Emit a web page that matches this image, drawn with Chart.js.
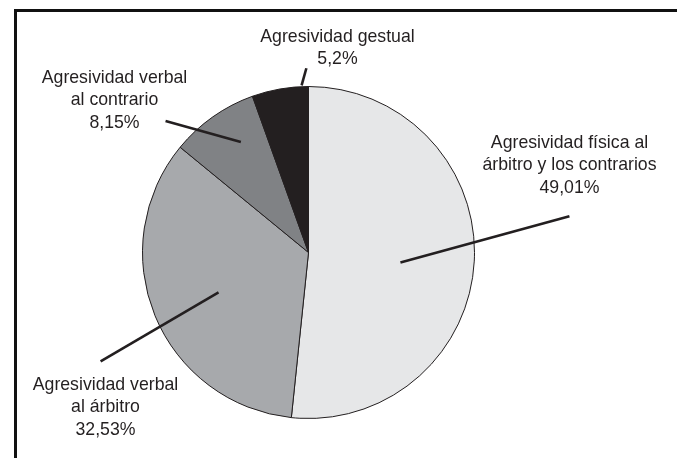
<!DOCTYPE html>
<html>
<head>
<meta charset="utf-8">
<script src="https://cdn.jsdelivr.net/npm/chart.js@4"></script>
<style>
html,body{margin:0;padding:0;background:#fff;}
canvas{display:block;}
</style>
</head>
<body>
<canvas id="c" width="677" height="458"></canvas>
<script>
// ---- data ----
const categories = [
  'Agresividad física al árbitro y los contrarios',
  'Agresividad verbal al árbitro',
  'Agresividad verbal al contrario',
  'Agresividad gestual'
];
const values = [49.01, 32.53, 8.15, 5.2];
const valueLabels = ['49,01%', '32,53%', '8,15%', '5,2%'];
const labelLines = [
  ['Agresividad física al', 'árbitro y los contrarios'],
  ['Agresividad verbal', 'al árbitro'],
  ['Agresividad verbal', 'al contrario'],
  ['Agresividad gestual']
];

// ---- style / layout ----
const colors = ['#e6e7e8', '#a7a9ac', '#808285', '#231f20'];
const ink = '#231f20';
// leader lines: angle offset (deg, from slice mid) and radius factor, inner & outer
const leaders = [
  {ia: 3.2, ir: 0.557, oa: -10.9, or: 1.587},
  {ia: -1.6, ir: 0.593, oa: -5.3, or: 1.414},
  {ia: 3.7, ir: 0.78, oa: -12.2, or: 1.17},
  {ia: 7.5, ir: 1.008, oa: 9.2, or: 1.11}
];
// text block placement relative to pie centre: centre x offset, first baseline offset
const textPos = [
  {dx: 261, dy: -105},
  {dx: -203, dy: 137},
  {dx: -194, dy: -170},
  {dx: 29, dy: -211}
];
const lineHeight = 22.5;
const fontSpec = '17.7px "Liberation Sans", Arial, sans-serif';

const framePlugin = {
  id: 'frame',
  beforeDraw(chart) {
    const ctx = chart.ctx;
    ctx.save();
    ctx.fillStyle = '#fff';
    ctx.fillRect(0, 0, chart.width, chart.height);
    ctx.strokeStyle = '#111';
    ctx.lineWidth = 3;
    ctx.beginPath();
    ctx.moveTo(15.5, chart.height);
    ctx.lineTo(15.5, 10.5);
    ctx.lineTo(chart.width, 10.5);
    ctx.stroke();
    ctx.restore();
  }
};

const labelPlugin = {
  id: 'pieLabels',
  afterDatasetsDraw(chart) {
    const ctx = chart.ctx;
    const meta = chart.getDatasetMeta(0);
    ctx.save();
    meta.data.forEach((arc, i) => {
      const p = arc.getProps(['x', 'y', 'startAngle', 'endAngle', 'outerRadius'], true);
      const mid = (p.startAngle + p.endAngle) / 2;
      const L = leaders[i];
      const a1 = mid + L.ia * Math.PI / 180, a2 = mid + L.oa * Math.PI / 180;
      ctx.strokeStyle = ink;
      ctx.lineWidth = 2.6;
      ctx.lineCap = 'butt';
      ctx.beginPath();
      ctx.moveTo(p.x + Math.cos(a1) * p.outerRadius * L.ir, p.y + Math.sin(a1) * p.outerRadius * L.ir);
      ctx.lineTo(p.x + Math.cos(a2) * p.outerRadius * L.or, p.y + Math.sin(a2) * p.outerRadius * L.or);
      ctx.stroke();

      const T = textPos[i];
      const lines = labelLines[i].concat([valueLabels[i]]);
      ctx.fillStyle = ink;
      ctx.font = fontSpec;
      ctx.textAlign = 'center';
      ctx.textBaseline = 'alphabetic';
      lines.forEach((t, k) => {
        ctx.fillText(t, p.x + T.dx, p.y + T.dy + k * lineHeight);
      });
    });
    ctx.restore();
  }
};

new Chart(document.getElementById('c'), {
  type: 'pie',
  data: {
    labels: categories,
    datasets: [{
      data: values,
      backgroundColor: colors,
      borderColor: ink,
      borderWidth: 1,
      borderAlign: 'center'
    }]
  },
  options: {
    responsive: false,
    animation: false,
    layout: {padding: {left: 142, right: 202, top: 86, bottom: 39}},
    plugins: {legend: {display: false}, tooltip: {enabled: false}}
  },
  plugins: [framePlugin, labelPlugin]
});
</script>
</body>
</html>
